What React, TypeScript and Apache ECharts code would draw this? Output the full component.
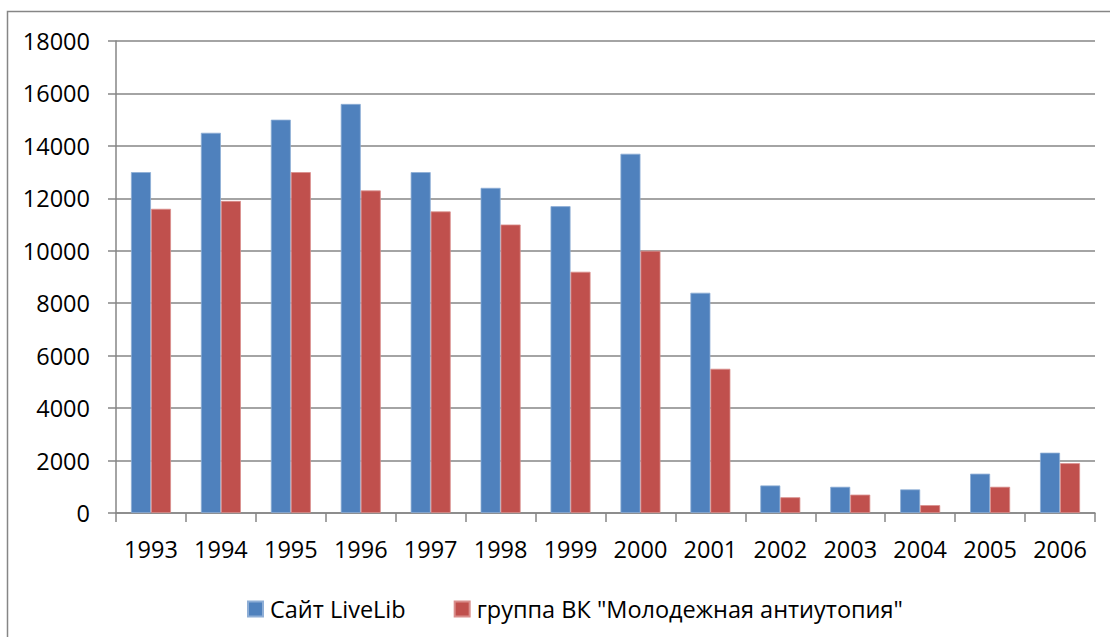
import React, { useEffect, useRef } from "react";
import * as echarts from "echarts";

const years = ["1993", "1994", "1995", "1996", "1997", "1998", "1999", "2000", "2001", "2002", "2003", "2004", "2005", "2006"];
const liveLib = [13000, 14500, 15000, 15600, 13000, 12400, 11700, 13700, 8400, 1050, 1000, 900, 1500, 2300];
const vkGroup = [11600, 11900, 13000, 12300, 11500, 11000, 9200, 10000, 5500, 600, 700, 300, 1000, 1900];
const seriesNames = ["Сайт LiveLib", "группа ВК \"Молодежная антиутопия\""];

const FONT = "'Open Sans', 'Noto Sans', sans-serif";
const FS = 23.5;

export default function App() {
  const ref = useRef<HTMLDivElement>(null);
  useEffect(() => {
    if (!ref.current) return;
    const chart = echarts.init(ref.current, null, { renderer: "svg" });
    chart.setOption({
      animation: false,
      backgroundColor: "#ffffff",
      textStyle: { fontFamily: FONT },
      graphic: [
        {
          type: "rect",
          shape: { x: 7.5, y: 11.5, width: 1300, height: 800 },
          style: { fill: "none", stroke: "#868686", lineWidth: 1.5 },
          silent: true,
        },
      ],
      grid: { left: 116, right: 15, top: 41, bottom: 124, containLabel: false },
      legend: {
        left: 242,
        top: 592,
        itemWidth: 15,
        itemHeight: 15,
        itemGap: 48,
        icon: "rect",
        textStyle: { fontFamily: FONT, fontSize: FS, color: "#000", padding: [0, 0, 0, 2] },
        data: seriesNames,
      },
      xAxis: {
        type: "category",
        data: years,
        axisLine: { lineStyle: { color: "#868686", width: 1.5 } },
        axisTick: { show: true, length: 9, lineStyle: { color: "#868686", width: 1.5 } },
        axisLabel: { color: "#000", fontFamily: FONT, fontSize: FS, margin: 24 },
      },
      yAxis: {
        type: "value",
        min: 0,
        max: 18000,
        interval: 2000,
        axisLine: { show: true, lineStyle: { color: "#868686", width: 1.5 } },
        axisTick: { show: true, length: 8, lineStyle: { color: "#868686", width: 1.5 } },
        axisLabel: { color: "#000", fontFamily: FONT, fontSize: FS, margin: 26, formatter: (v: number) => String(v) },
        splitLine: { lineStyle: { color: "#868686", width: 1.5 } },
      },
      series: [
        {
          name: seriesNames[0],
          type: "bar",
          data: liveLib,
          barWidth: 20,
          barGap: "0%",
          itemStyle: { color: "#4F81BD", borderColor: "#8eaed6", borderWidth: 0.8 },
        },
        {
          name: seriesNames[1],
          type: "bar",
          data: vkGroup,
          barWidth: 20,
          barGap: "0%",
          itemStyle: { color: "#C0504D", borderColor: "#d98e8c", borderWidth: 0.8 },
        },
      ],
    });
    return () => chart.dispose();
  }, []);
  return (
    <div
      ref={ref}
      style={{ position: "fixed", left: 0, top: 0, width: 1110, height: 637 }}
    />
  );
}
